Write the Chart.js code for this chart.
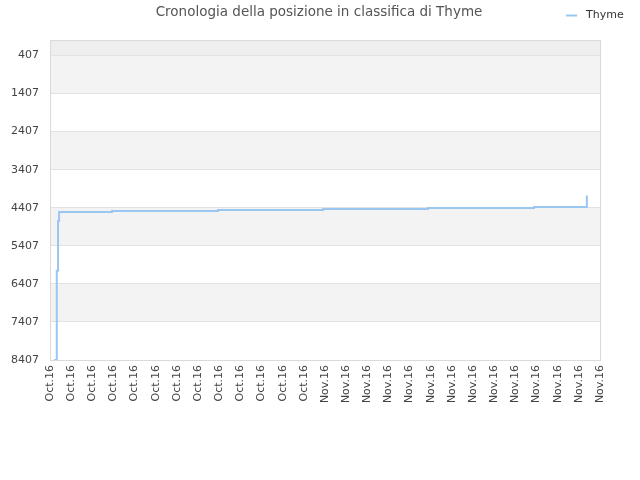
<!DOCTYPE html>
<html>
<head>
<meta charset="utf-8">
<script src="https://cdn.jsdelivr.net/npm/chart.js@4/dist/chart.umd.min.js"></script>
<style>
  html, body { margin: 0; padding: 0; background: #fff; }
  #wrap { width: 640px; height: 480px; }
</style>
</head>
<body>
<div id="wrap"><canvas id="rankChart" width="640" height="480"></canvas></div>
<script>
// ===========================
// DATA
// ===========================
const chartTitle = 'Cronologia della posizione in classifica di Thyme';
const seriesName = 'Thyme';

const xLabels = [
  'Oct.16', 'Oct.16', 'Oct.16', 'Oct.16', 'Oct.16', 'Oct.16', 'Oct.16',
  'Oct.16', 'Oct.16', 'Oct.16', 'Oct.16', 'Oct.16', 'Oct.16',
  'Nov.16', 'Nov.16', 'Nov.16', 'Nov.16', 'Nov.16', 'Nov.16', 'Nov.16',
  'Nov.16', 'Nov.16', 'Nov.16', 'Nov.16', 'Nov.16', 'Nov.16', 'Nov.16'
];

const yTicks = [407, 1407, 2407, 3407, 4407, 5407, 6407, 7407, 8407];

// position in the ranking, at the points where it changed
const rankX = [0.19, 0.32, 0.38, 0.43, 2.93, 7.94, 12.91, 17.87, 22.88, 25.38];
const rankY = [8407, 6065, 4757, 4521, 4495, 4469, 4442, 4416, 4390, 4084];

const LINE_COLOR = '#9ac6f2';

// ===========================
// BACKGROUND BANDS + FRAME + TITLE/LEGEND
// ===========================
const bandsPlugin = {
  id: 'bands',
  beforeDraw(chart) {
    const { ctx, chartArea: a, scales: { y } } = chart;
    const edges = [0, ...yTicks];
    ctx.save();
    for (let i = 0; i < edges.length - 1; i++) {
      const y1 = y.getPixelForValue(edges[i]);
      const y2 = y.getPixelForValue(edges[i + 1]);
      let color = null;
      if (i === 0) color = '#eeeeee';
      else if (i % 2 === 1) color = '#f3f3f3';
      if (color) {
        ctx.fillStyle = color;
        ctx.fillRect(a.left, y1, a.right - a.left, y2 - y1);
      }
    }
    ctx.restore();
  },
  afterDraw(chart) {
    const { ctx, chartArea: a } = chart;
    ctx.save();
    ctx.strokeStyle = '#dadada';
    ctx.lineWidth = 1;
    ctx.strokeRect(a.left + 0.5, a.top + 0.5, a.right - a.left, a.bottom - a.top);

    // title
    ctx.fillStyle = '#555';
    ctx.font = '13.5px "DejaVu Sans"';
    ctx.textAlign = 'center';
    ctx.textBaseline = 'middle';
    ctx.fillText(chartTitle, 319, 12);

    // legend
    ctx.strokeStyle = LINE_COLOR;
    ctx.lineWidth = 2;
    ctx.beginPath();
    ctx.moveTo(566, 15.5);
    ctx.lineTo(577, 15.5);
    ctx.stroke();
    ctx.fillStyle = '#333';
    ctx.font = '11px "DejaVu Sans"';
    ctx.textAlign = 'left';
    ctx.fillText(seriesName, 586, 15);
    ctx.restore();
  }
};

new Chart(document.getElementById('rankChart'), {
  type: 'line',
  data: {
    datasets: [{
      label: seriesName,
      data: rankX.map((x, i) => ({ x, y: rankY[i] })),
      borderColor: LINE_COLOR,
      borderWidth: 2,
      stepped: true,
      pointRadius: 0,
      fill: false
    }]
  },
  options: {
    responsive: false,
    animation: false,
    layout: { padding: { top: 40, right: 40, left: 0, bottom: 0 } },
    plugins: {
      legend: { display: false },
      title: { display: false },
      tooltip: { enabled: false }
    },
    scales: {
      x: {
        type: 'linear',
        min: 0,
        max: xLabels.length - 1,
        afterBuildTicks: s => { s.ticks = xLabels.map((_, i) => ({ value: i })); },
        afterFit: s => { s.height = 120; },
        grid: { display: false, drawTicks: false },
        border: { display: false },
        ticks: {
          autoSkip: false,
          minRotation: 90,
          maxRotation: 90,
          padding: 5,
          color: '#444',
          font: { family: 'DejaVu Sans', size: 11 },
          callback: (v, i) => xLabels[i]
        }
      },
      y: {
        reverse: true,
        min: 0,
        max: 8407,
        afterBuildTicks: s => { s.ticks = yTicks.map(v => ({ value: v })); },
        afterFit: s => { s.width = 50; },
        grid: { color: '#e2e2e2', drawTicks: false },
        border: { display: false },
        ticks: {
          padding: 11,
          color: '#444',
          font: { family: 'DejaVu Sans', size: 11 },
          callback: v => String(v)
        }
      }
    }
  },
  plugins: [bandsPlugin]
});
</script>
</body>
</html>
